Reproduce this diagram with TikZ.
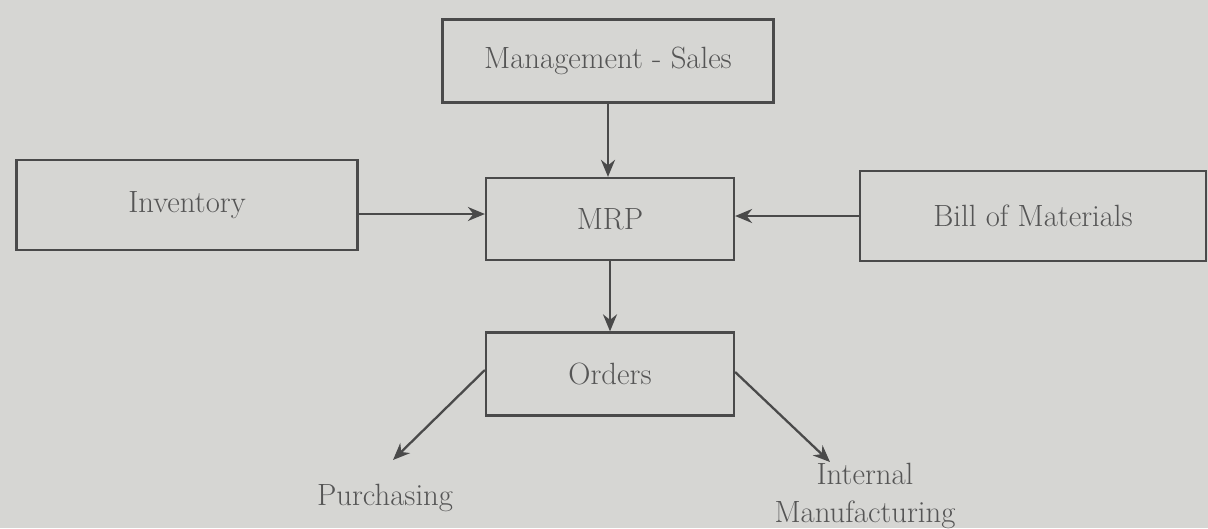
\documentclass[tikz,border=0pt]{standalone}
\usepackage{xcolor}
\usepackage{tikz}
\usetikzlibrary{arrows.meta,positioning}
\definecolor{paper}{HTML}{D6D6D3}
\definecolor{ink}{HTML}{4A4A4A}
\definecolor{inktext}{HTML}{555555}

\begin{document}
\begin{tikzpicture}[
  x=0.02cm,y=-0.02cm,
  font=\fontsize{17.5}{22}\selectfont,
  box/.style={draw=ink,line width=1.3pt,fill=paper,text=inktext,align=center,inner sep=0pt},
  arr/.style={-{Stealth[length=3.4mm,width=2.8mm]},line width=1.3pt,ink},
  lbl/.style={text=inktext,align=center}
]
\useasboundingbox (0,0) rectangle (1208,528);
\fill[paper] (0,0) rectangle (1208,528);
\node[box,minimum width=6.62cm,minimum height=1.66cm] (mgmt) at (608,61) {Management - Sales};
\node[box,minimum width=6.82cm,minimum height=1.8cm] (inv) at (187,205) {Inventory};
\node[box,minimum width=4.96cm,minimum height=1.64cm] (mrp) at (610,219) {MRP};
\node[box,minimum width=6.92cm,minimum height=1.8cm] (bom) at (1033,216) {Bill of Materials};
\node[box,minimum width=4.96cm,minimum height=1.66cm] (ord) at (610,374) {Orders};
\node[lbl] (purch) at (385,498) {Purchasing};
\node[lbl] (intman) at (865,496) {Internal\\Manufacturing};
\coordinate (purchend) at (393,460);
\coordinate (intend) at (830,462);
\draw[arr] (mgmt.south) -- (mgmt.south |- mrp.north);
\draw[arr] (inv.east |- 0,214) -- (mrp.west |- 0,214);
\draw[arr] (bom.west) -- (mrp.east |- bom.west);
\draw[arr] (mrp.south) -- (ord.north);
\draw[arr] (ord.north west |- 0,370) -- (purchend);
\draw[arr] (ord.north east |- 0,372) -- (intend);
\end{tikzpicture}
\end{document}
